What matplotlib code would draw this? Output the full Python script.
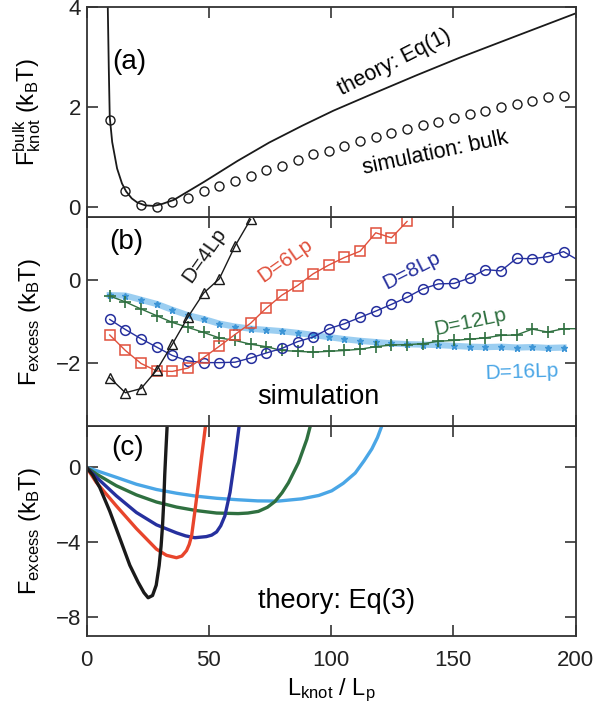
import matplotlib
matplotlib.use('Agg')
import matplotlib.pyplot as plt

plt.rcParams['font.family'] = ['Liberation Sans', 'DejaVu Sans']
plt.rcParams['mathtext.fontset'] = 'custom'
plt.rcParams['mathtext.rm'] = 'Liberation Sans'
plt.rcParams['mathtext.it'] = 'Liberation Sans:italic'
plt.rcParams['mathtext.default'] = 'regular'

# knot lengths of the simulation points (L_knot / L_p)
L_sim = [9.5, 15.9, 22.3, 28.7, 35.1, 41.5, 47.9, 54.3, 60.7, 67.1,
         73.5, 79.9, 86.3, 92.7, 99.1, 105.5, 111.9, 118.3, 124.7, 131.1,
         137.5, 143.9, 150.3, 156.7, 163.1, 169.5, 175.9, 182.3, 188.7, 195.1]

# (a) bulk knot free energy
bulk_sim = [1.75, 0.31, 0.03, -0.01, 0.09, 0.18, 0.31, 0.42, 0.52, 0.62,
            0.73, 0.83, 0.95, 1.06, 1.13, 1.23, 1.32, 1.40, 1.48, 1.56,
            1.64, 1.71, 1.79, 1.86, 1.93, 2.00, 2.06, 2.13, 2.21, 2.23]
bulk_th_L = [8.2, 8.7, 9.1, 9.5, 10.5, 12.5, 14.5, 16.2, 18.5, 20.7, 24.0,
             27.5, 31.0, 35.7, 48.0, 61.7, 74.7, 88.3, 101.0, 115.7, 135.0,
             152.5, 177.0, 200.0]
bulk_th = [4.6, 4.0, 2.8, 1.8, 1.3, 0.77, 0.47, 0.31, 0.17, 0.09, 0.03,
           0.02, 0.06, 0.14, 0.50, 0.92, 1.29, 1.63, 1.93, 2.24, 2.64,
           2.99, 3.45, 3.88]

# (b) simulated excess free energy for different D
sim_D4 = [-2.34, -2.70, -2.60, -2.16, -1.54, -0.89, -0.32, 0.02, 0.80, 1.44]
sim_D6 = [-1.32, -1.69, -2.00, -2.18, -2.19, -2.11, -1.86, -1.59, -1.31, -1.04,
          -0.68, -0.37, -0.14, 0.14, 0.35, 0.53, 0.68, 1.12, 1.00, 1.39]
sim_D8 = [-0.95, -1.19, -1.41, -1.61, -1.81, -1.94, -1.98, -1.98, -1.97, -1.87,
          -1.75, -1.64, -1.48, -1.37, -1.17, -1.05, -0.90, -0.75, -0.59, -0.42,
          -0.22, -0.10, -0.09, 0.04, 0.24, 0.21, 0.51, 0.50, 0.55, 0.67]
sim_D12 = [-0.39, -0.53, -0.70, -0.86, -1.02, -1.14, -1.26, -1.39, -1.45, -1.54,
           -1.60, -1.69, -1.71, -1.73, -1.71, -1.69, -1.66, -1.60, -1.56, -1.55,
           -1.53, -1.47, -1.45, -1.42, -1.39, -1.33, -1.32, -1.18, -1.25, -1.17]
sim_D16 = [-0.37, -0.38, -0.48, -0.58, -0.72, -0.85, -0.94, -1.05, -1.12, -1.17,
           -1.20, -1.23, -1.27, -1.32, -1.37, -1.42, -1.46, -1.49, -1.52, -1.54,
           -1.55, -1.56, -1.58, -1.60, -1.61, -1.60, -1.62, -1.61, -1.63, -1.62]
# last segment of D=8 and D=12 runs off the right edge
L_end = 203.0
D8_end = 0.40
D12_end = -1.17

# (c) theory, Eq(3)
th_D4_L = [0, 2.5, 5.4, 9.5, 13.6, 17.7, 21.1, 23.5, 25.2, 27.0, 28.5, 29.7,
           30.5, 31.1, 31.6, 32.0, 32.5, 33.2]
th_D4 = [0, -0.4, -1.07, -2.34, -3.78, -5.23, -6.14, -6.7, -6.97, -6.85, -6.3,
         -5.25, -4.2, -3.08, -1.8, -0.37, 1.0, 2.8]
th_D6_L = [0, 4.0, 12.2, 20.4, 28.6, 32.7, 36.8, 39.0, 40.9, 42.0, 43.0, 44.3,
           45.7, 47.0, 48.4, 49.2]
th_D6 = [0, -0.8, -2.06, -3.27, -4.37, -4.70, -4.83, -4.74, -4.45, -4.12, -3.64,
         -2.37, -0.94, 0.5, 1.95, 2.8]
th_D8_L = [0, 4.0, 12.2, 20.4, 28.6, 36.8, 40.5, 44.3, 49.0, 51.2, 53.2, 54.9,
           56.6, 58.7, 60.7, 62.5, 63.3]
th_D8 = [0, -0.52, -1.52, -2.41, -3.07, -3.5, -3.66, -3.76, -3.7, -3.62, -3.45,
         -3.12, -2.59, -1.33, 0.47, 2.3, 3.0]
th_D12_L = [0, 4.0, 12.2, 20.4, 28.6, 36.8, 45.0, 53.2, 62.0, 66.0, 70.3, 74.0,
            77.1, 80.0, 82.6, 86.7, 90.1, 91.5, 92.5]
th_D12 = [0, -0.35, -0.98, -1.47, -1.85, -2.12, -2.31, -2.44, -2.47, -2.44, -2.35,
          -2.13, -1.82, -1.35, -0.82, 0.26, 1.5, 2.2, 2.8]
th_D16_L = [0, 4.0, 12.2, 20.4, 28.6, 36.8, 45.0, 53.2, 62.0, 70.0, 78.5, 88.0,
            95.0, 100.3, 105.0, 109.9, 113.5, 116.7, 119.0, 121.0, 122.5]
th_D16 = [0, -0.17, -0.53, -0.9, -1.18, -1.38, -1.54, -1.65, -1.73, -1.79, -1.80,
          -1.68, -1.5, -1.25, -0.85, -0.3, 0.35, 0.99, 1.6, 2.3, 2.8]

c_black = '#1a1a1a'
c_red = '#e0503c'
c_blue = '#26309e'
c_green = '#2f7040'
c_light = '#4aa6e6'

fig = plt.figure(figsize=(6, 7.15), dpi=100)
left, width = 0.1442, 0.815
bottom, h = 0.1109, 0.2929
ax_c = fig.add_axes([left, bottom, width, h])
ax_b = fig.add_axes([left, bottom + h, width, h], sharex=ax_c)
ax_a = fig.add_axes([left, bottom + 2 * h, width, h], sharex=ax_c)

# ---- (a) ----
ax_a.plot(bulk_th_L, bulk_th, color=c_black, lw=1.3)
ax_a.plot(L_sim, bulk_sim, 'o', mfc='none', mec=c_black, ms=6.5, mew=1.0)
ax_a.set_ylim(-0.2, 4.0)
ax_a.set_yticks([0, 2, 4])
ax_a.text(10.7, 2.9, '(a)', fontsize=20, va='center', ha='left')
ax_a.text(125.8, 2.9, 'theory: Eq(1)', fontsize=15.5, rotation=27,
          ha='center', va='center', rotation_mode='anchor')
ax_a.text(142.6, 1.07, 'simulation: bulk', fontsize=15.5, rotation=12,
          ha='center', va='center', rotation_mode='anchor')
ax_a.set_ylabel(r'$F^{bulk}_{knot}$ (k$_B$T)', fontsize=17)

# ---- (b) ----
ax_b.plot(L_sim, sim_D16, '-', color=c_light, lw=4.5, alpha=0.55)
ax_b.plot(L_sim, sim_D16, '*', color='#3d95d6', ms=5)
ax_b.plot(L_sim + [L_end], sim_D12 + [D12_end], '-+', color=c_green, lw=1.0,
          ms=8, mew=1.2)
ax_b.plot(L_sim + [L_end], sim_D8 + [D8_end], '-o', color=c_blue, mfc='none',
          lw=1.0, ms=7, mew=1.1)
ax_b.plot(L_sim[:20], sim_D6, '-s', color=c_red, mfc='none', lw=1.0, ms=6.5, mew=1.1)
ax_b.plot(L_sim[:10], sim_D4, '-^', color=c_black, mfc='none', lw=1.0, ms=7.5, mew=1.0)
ax_b.set_ylim(-3.5, 1.5)
ax_b.set_yticks([-2, 0])
ax_b.text(9.5, 0.89, '(b)', fontsize=20, va='center', ha='left')
ax_b.text(48.1, 0.59, 'D=4Lp', color=c_black, fontsize=15, rotation=55,
          ha='center', va='center', rotation_mode='anchor')
ax_b.text(81.1, 0.45, 'D=6Lp', color=c_red, fontsize=15, rotation=35,
          ha='center', va='center', rotation_mode='anchor')
ax_b.text(132.9, 0.21, 'D=8Lp', color=c_blue, fontsize=15, rotation=27,
          ha='center', va='center', rotation_mode='anchor')
ax_b.text(156.8, -1.02, 'D=12Lp', color=c_green, fontsize=15, rotation=12,
          ha='center', va='center', rotation_mode='anchor')
ax_b.text(177.8, -2.22, 'D=16Lp', color=c_light, fontsize=15, rotation=2,
          ha='center', va='center', rotation_mode='anchor')
ax_b.text(69.8, -2.97, 'simulation', fontsize=19.5, ha='left', va='baseline')
ax_b.set_ylabel(r'$F_{excess}$ (k$_B$T)', fontsize=17)

# ---- (c) ----
ax_c.plot(th_D16_L, th_D16, color=c_light, lw=2.4)
ax_c.plot(th_D12_L, th_D12, color=c_green, lw=2.4)
ax_c.plot(th_D8_L, th_D8, color=c_blue, lw=2.4)
ax_c.plot(th_D6_L, th_D6, color='#e8452c', lw=2.4)
ax_c.plot(th_D4_L, th_D4, color=c_black, lw=2.4)
ax_c.set_ylim(-9, 2.2)
ax_c.set_yticks([-8, -4, 0])
ax_c.text(10, 1.03, '(c)', fontsize=20, va='center', ha='left')
ax_c.text(70.3, -7.5, 'theory: Eq(3)', fontsize=19.5, ha='left', va='baseline')
ax_c.set_ylabel(r'$F_{excess}$ (k$_B$T)', fontsize=17)
ax_c.set_xlabel(r'$L_{knot}$ / $L_p$', fontsize=17, labelpad=4)

ax_c.set_xlim(0, 200)
ax_c.set_xticks([0, 50, 100, 150, 200])

for ax in (ax_a, ax_b, ax_c):
    ax.tick_params(direction='in', top=True, right=True, length=8, width=1.1,
                   labelsize=16, colors='#222222')
    ax.tick_params(axis='x', pad=10)
    ax.tick_params(axis='y', pad=4)
    for s in ax.spines.values():
        s.set_linewidth(1.3)
        s.set_color('#333333')
    ax.yaxis.set_label_coords(-0.088, 0.5)
for ax in (ax_a, ax_b):
    ax.tick_params(labelbottom=False)

fig.savefig('out.png', dpi=100)
